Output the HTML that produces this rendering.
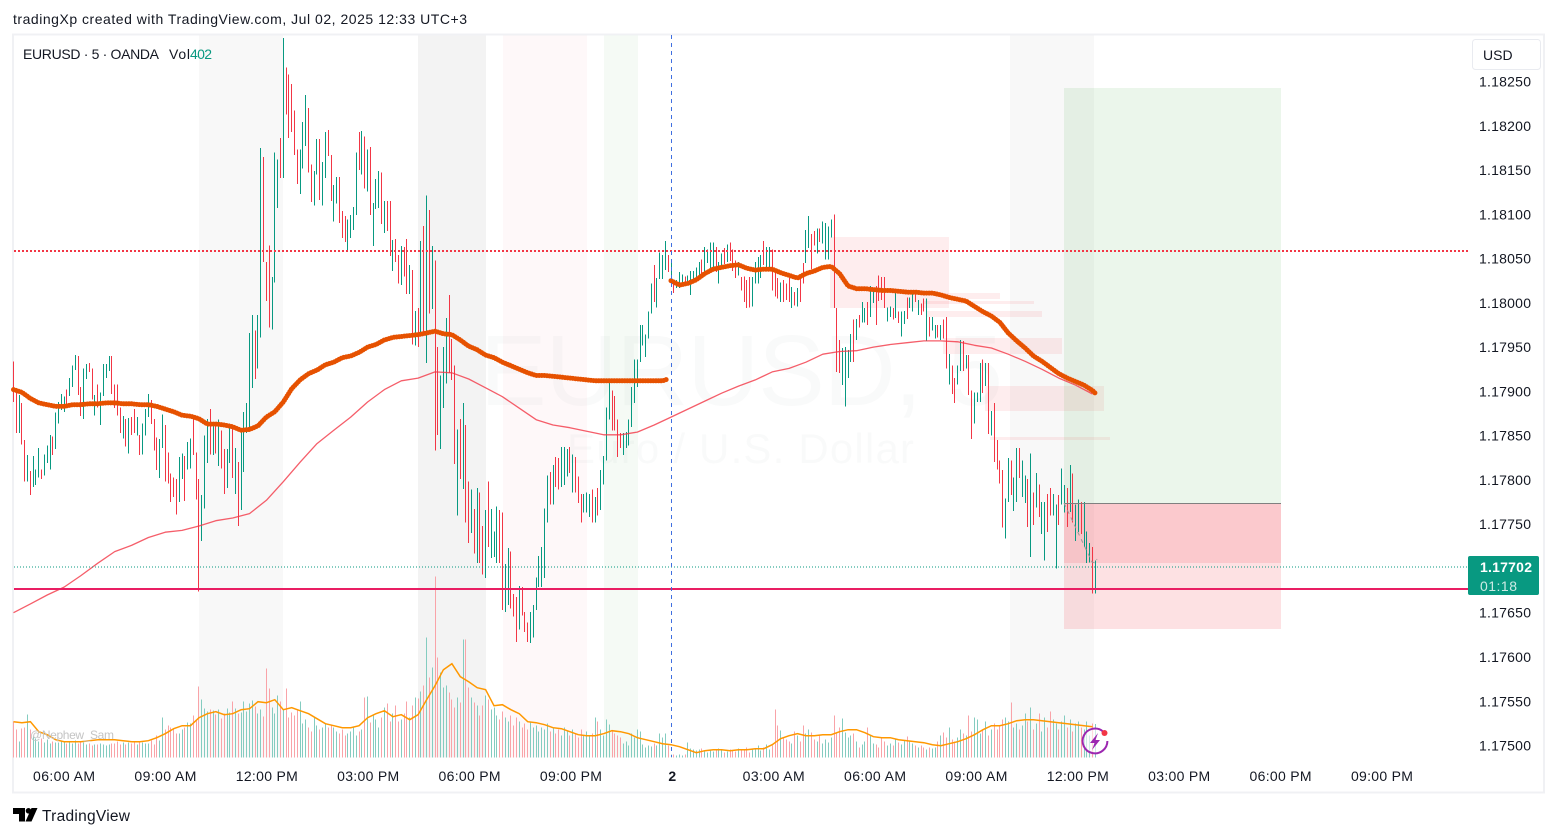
<!DOCTYPE html>
<html lang="en">
<head>
<meta charset="utf-8">
<title>EURUSD 5m chart</title>
<style>
html,body{margin:0;padding:0;background:#fff;width:1557px;height:837px;overflow:hidden}
svg{display:block;font-family:"Liberation Sans",sans-serif}
text{fill:#131722;font-size:14px}
</style>
</head>
<body>
<svg id="chart" xmlns="http://www.w3.org/2000/svg" width="1557" height="837" viewBox="0 0 1557 837">
  <text x="13" y="24" textLength="454" lengthAdjust="spacing">tradingXp created with TradingView.com, Jul 02, 2025 12:33 UTC+3</text>
  <rect x="13" y="34.5" width="1531" height="758" fill="#fff" stroke="#f0f1f4" stroke-width="2"/>
  <g>
    <rect x="199" y="35.5" width="84" height="722" fill="#f8f8f8"/>
    <rect x="418" y="35.5" width="68" height="722" fill="#f3f3f3"/>
    <rect x="503" y="35.5" width="84" height="722" fill="#fef8f9"/>
    <rect x="604" y="35.5" width="34" height="722" fill="#f5faf5"/>
    <rect x="1010" y="35.5" width="84" height="722" fill="#f8f8f8"/>
  </g>
  <g>
    <text x="480" y="405" textLength="523" style="font-size:100px;fill:rgba(19,23,34,.025)">EURUSD, 5</text>
    <text x="567" y="463" textLength="347" style="font-size:42px;fill:rgba(19,23,34,.025)">Euro / U.S. Dollar</text>
  </g>
  <g fill="rgba(242,54,69,.09)">
    <rect x="830" y="237" width="119" height="71"/>
    <rect x="943" y="293" width="57" height="6"/>
    <rect x="923" y="301" width="111" height="3"/>
    <rect x="927" y="311" width="115" height="6"/>
    <rect x="943" y="338" width="119" height="16"/>
    <rect x="985" y="386" width="119" height="25"/>
    <rect x="990" y="437" width="120" height="3"/>
  </g>
  <g>
    <rect x="1064" y="88" width="217" height="415" fill="rgba(76,175,80,.115)"/>
    <rect x="1064" y="503" width="217" height="60" fill="rgba(242,54,69,.27)"/>
    <rect x="1064" y="563" width="217" height="66" fill="rgba(242,54,69,.15)"/>
  </g>
  <g id="volumeBars"></g>
  <polyline id="volumeMa" fill="none" stroke="#ff9800" stroke-width="1.5"/>
  <g id="candles"></g>
  <line x1="1064" y1="503.5" x2="1281" y2="503.5" stroke="#808080" stroke-width="1"/>
  <polyline points="1064,503 1092,562 1095,563 1097,559" fill="none" stroke="#9a9a9a" stroke-width="1" stroke-dasharray="4 4"/>
  <polyline id="ma200" fill="none" stroke="#f23645" stroke-opacity=".8" stroke-width="1.3" stroke-linejoin="round"/>
  <polyline id="vwapDay1Line" fill="none" stroke="#e65100" stroke-width="5" stroke-linecap="round" stroke-dasharray="0 2.6"/>
  <polyline id="vwapDay2Line" fill="none" stroke="#e65100" stroke-width="5" stroke-linecap="round" stroke-dasharray="0 2.6"/>
  <line x1="14" y1="251" x2="1469" y2="251" stroke="#f23645" stroke-width="2" stroke-dasharray="2 2"/>
  <line x1="14" y1="567" x2="1469" y2="567" stroke="#089981" stroke-width="1" stroke-dasharray="1 2"/>
  <line x1="14" y1="589" x2="1469" y2="589" stroke="#e91e63" stroke-width="2"/>
  <line x1="671.5" y1="35" x2="671.5" y2="757" stroke="#3f6fe0" stroke-width="1" stroke-dasharray="4 4"/>
  <g id="priceAxis"></g>
  <g id="timeAxis"></g>
  <g>
    <text x="23" y="59" textLength="136">EURUSD · 5 · OANDA</text>
    <text x="169" y="59" textLength="21">Vol</text>
    <text x="190" y="59" textLength="22" style="fill:#089981">402</text>
  </g>
  <text x="30" y="739" textLength="84" style="font-size:12px;fill:#c4c4c4">@Nephew_Sam</text>
  <g>
    <rect x="1472.5" y="39.5" width="68" height="30" rx="3" fill="#fff" stroke="#e9ebf0"/>
    <text x="1483" y="60">USD</text>
  </g>
  <g>
    <rect x="1468" y="556" width="71" height="39" rx="2" fill="#089981"/>
    <text x="1480" y="572" textLength="52" style="fill:#fff;font-weight:bold">1.17702</text>
    <text x="1480" y="591" textLength="37" style="fill:#cdeae4">01:18</text>
  </g>
  <g>
    <path d="M1103 731.5A12.4 12.4 0 1 0 1107.4 741" fill="#fff" fill-opacity=".6" stroke="#9c27b0" stroke-width="2"/>
    <polygon points="1098,733 1090,743 1094.5,743 1092,750 1100,740 1095.5,740" fill="#9c27b0"/>
    <circle cx="1104.5" cy="733" r="3" fill="#f23645"/>
  </g>
  <g>
    <polygon points="13,808 25,808 25,821.5 19,821.5 19,814 13,814" fill="#000"/>
    <circle cx="28.5" cy="810.8" r="2.8" fill="#000"/>
    <polygon points="31.5,808 37.5,808 31.5,821.5 25.5,821.5" fill="#000"/>
    <text x="42" y="821" textLength="88" style="font-size:15.5px">TradingView</text>
  </g>
</svg>
<script>
const barHighs = [
117934,117902,117896,117887,117845,117828,117810,117827,117812,117836,
117812,117829,117839,117851,117849,117876,117888,117897,117894,117902,
117915,117929,117941,117940,117905,117926,117931,117932,117926,117896,
117908,117899,117931,117931,117940,117940,117908,117908,117882,117872,
117869,117870,117871,117880,117871,117851,117864,117880,117897,117890,
117869,117848,117846,117874,117862,117831,117807,117803,117801,117826,
117830,117827,117843,117847,117870,117831,117801,117783,117850,117869,
117880,117864,117863,117868,117856,117835,117835,117864,117859,117836,
117820,117856,117877,117887,117966,117986,117969,117986,118175,118165,
118046,118065,118029,118170,118162,118186,118299,118266,118258,118247,
118217,118173,118173,118204,118235,118220,118156,118149,118185,118185,
118159,118193,118195,118167,118133,118142,118142,118104,118098,118094,
118099,118108,118170,118193,118194,118188,118173,118176,118113,118140,
118149,118147,118115,118115,118115,118071,118072,118054,118064,118063,
118072,118043,118037,117991,117994,118070,118087,118121,118105,118064,
118048,117950,117918,117950,117983,118009,117959,117929,117857,117869,
117887,117862,117798,117789,117767,117791,117786,117748,117766,117798,
117767,117742,117770,117766,117763,117705,117723,117719,117671,117668,
117680,117679,117651,117639,117651,117659,117690,117714,117724,117768,
117805,117809,117817,117826,117825,117837,117837,117835,117837,117829,
117826,117804,117784,117784,117786,117784,117789,117781,117791,117811,
117827,117882,117913,117901,117895,117868,117853,117853,117854,117868,
117905,117936,117936,117975,117975,117964,117990,118022,118043,118028,
118057,118054,118070,118054,118046,118022,118026,118035,118032,118030,
118031,118036,118036,118040,118046,118049,118063,118060,118068,118068,
118063,118046,118056,118062,118066,118068,118060,118048,118046,118029,
118030,118026,118029,118029,118046,118052,118054,118070,118063,118063,
118060,118035,118028,118023,118026,118022,118028,118018,118012,118017,
118028,118045,118082,118098,118078,118081,118084,118084,118092,118090,
118086,118094,118100,117994,117958,117949,117950,117947,117965,117981,
117982,117986,118001,117994,118001,118019,118017,118019,118031,118029,
118029,117995,117996,117994,118012,117990,117990,117991,118006,118006,
118012,118012,118003,117999,118005,118005,117984,117984,117975,117975,
117975,117981,117984,117942,117929,117915,117929,117958,117957,117941,
117941,117901,117899,117899,117932,117936,117932,117932,117878,117887,
117845,117822,117811,117779,117825,117822,117803,117836,117836,117822,
117805,117801,117830,117786,117808,117795,117775,117775,117784,117791,
117784,117772,117783,117813,117794,117791,117817,117807,117772,117778,
117775,117775,117742,117729,117724,117709
];
const barLows = [
117888,117853,117853,117840,117798,117798,117783,117792,117794,117803,
117801,117805,117819,117812,117828,117835,117864,117879,117877,117882,
117895,117905,117924,117896,117872,117869,117914,117922,117891,117873,
117882,117862,117895,117915,117923,117897,117881,117873,117853,117847,
117838,117830,117851,117853,117850,117828,117829,117850,117871,117863,
117833,117811,117802,117836,117798,117796,117775,117781,117761,117775,
117801,117776,117812,117813,117828,117778,117674,117731,117768,117819,
117829,117828,117830,117816,117813,117784,117791,117819,117802,117784,
117748,117766,117809,117853,117857,117904,117914,117926,117961,118046,
118002,117972,117970,118023,118107,118141,118141,118213,118186,118193,
118167,118134,118123,118152,118177,118147,118114,118110,118145,118116,
118110,118141,118166,118115,118092,118112,118090,118073,118069,118058,
118073,118082,118099,118150,118145,118129,118126,118099,118064,118106,
118107,118089,118079,118081,118053,118036,118046,118022,118020,118030,
118010,118010,117953,117952,117950,117966,117966,117932,117988,117993,
117833,117851,117835,117881,117909,117921,117913,117818,117760,117801,
117790,117752,117729,117740,117717,117706,117706,117693,117689,117724,
117712,117713,117706,117706,117653,117651,117659,117655,117646,117617,
117631,117647,117628,117617,117616,117622,117653,117679,117679,117689,
117752,117772,117772,117792,117789,117792,117794,117804,117808,117786,
117786,117774,117752,117763,117763,117758,117752,117752,117760,117766,
117795,117822,117868,117856,117856,117826,117836,117828,117836,117839,
117860,117887,117905,117933,117952,117939,117960,117988,118001,117995,
118027,118027,118037,118035,118026,118011,118017,118017,118020,118020,
118020,118009,118023,118028,118029,118031,118035,118045,118034,118039,
118035,118022,118040,118044,118046,118047,118036,118028,118031,118014,
118001,117994,117995,117996,118022,118022,118028,118043,118039,118039,
118014,118007,118005,118001,118001,118003,118001,117994,117997,117996,
118001,118022,118045,118062,118038,118065,118056,118069,118067,118049,
118049,118074,117994,117922,117921,117907,117883,117915,117933,117933,
117958,117972,117978,117978,117975,117984,118000,117975,118002,118003,
117994,117979,117984,117981,117983,117977,117962,117976,117982,117994,
117990,118001,117986,117986,117990,117957,117962,117969,117960,117961,
117958,117960,117926,117908,117897,117887,117908,117923,117923,117926,
117896,117846,117864,117888,117888,117898,117906,117852,117850,117820,
117812,117796,117746,117734,117775,117783,117765,117775,117802,117781,
117774,117747,117713,117749,117769,117758,117739,117709,117741,117760,
117760,117700,117749,117772,117763,117747,117764,117752,117731,117741,
117739,117724,117706,117707,117672,117672
];
const barUp = [
0,0,1,0,0,1,0,1,1,1, 0,1,1,1,0,1,1,1,1,0, 1,1,1,0,0,1,1,0,0,1,
0,1,1,1,1,0,0,0,0,1, 0,1,0,0,1,0,1,1,1,0, 0,0,1,1,0,0,0,0,0,1,
1,0,1,1,0,0,0,1,1,1, 0,1,0,1,0,0,1,1,0,1, 0,1,1,1,1,1,0,1,1,0,
0,0,1,1,1,0,1,0,0,0, 0,0,1,1,1,0,0,1,1,0, 1,1,0,0,1,1,0,0,0,1,
1,1,1,0,1,0,1,0,1,1, 1,0,1,0,0,1,0,0,1,0, 0,1,0,1,0,1,0,1,0,1,
0,0,1,1,1,0,0,0,1,0, 1,0,0,1,0,1,0,0,1,0, 1,1,1,0,0,1,1,0,0,0,
1,0,0,0,1,1,1,1,1,1, 1,0,1,0,0,1,1,1,0,1, 0,0,0,1,1,1,0,1,0,1,
1,1,1,0,0,0,0,1,1,1, 1,1,1,1,1,1,1,1,0,1, 1,1,1,0,1,0,1,1,1,0,
1,1,1,1,1,0,1,1,1,1, 0,1,1,0,1,0,0,0,1,0, 0,0,0,1,1,1,1,0,1,1,
0,0,0,1,0,0,0,1,0,1, 0,0,1,1,0,0,1,0,1,1, 1,1,0,0,0,1,1,1,1,0,
1,0,1,1,0,1,1,0,0,0, 0,1,1,0,1,0,1,1,0,1, 1,0,1,0,0,1,0,1,1,0,
1,0,0,1,0,0,1,1,0,1, 0,0,1,1,1,0,1,0,1,0, 0,0,0,1,1,0,1,1,0,1,
1,0,1,0,1,0,1,1,0,0, 1,1,0,1,1,0,1,0,1,1, 0,1,1,1,0,1,1,0,1,0
];
const volumes = [
432,336,192,348,360,516,336,252,228,192,228,180,216,168,192,180,180,192,
180,168,192,168,204,168,180,180,156,168,144,156,156,168,156,144,156,168,
168,192,156,180,156,180,168,180,156,192,180,168,168,204,156,
264,204,480,336,384,360,336,288,288,336,360,420,408,504,456,852,
696,588,552,576,564,516,576,468,528,588,540,672,588,528,540,672,552,648,684,612,528,576,492,1068,
828,600,528,744,672,576,828,480,540,504,564,672,408,456,360,312,480,384,336,360,
408,360,384,360,312,288,336,264,288,312,360,264,312,336,
720,732,420,504,456,360,
480,600,648,432,528,624,432,456,528,672,480,
624,720,708,792,864,1440,960,1080,2172,1200,1020,840,864,780,696,600,720,660,1416,1416,840,720,660,624,
504,624,744,696,576,600,504,456,552,480,432,504,384,480,432,360,408,336,432,360,
384,312,360,336,408,312,360,288,336,264,360,312,264,336,288,240,336,264,312,264,288,480,432,336,264,
456,396,324,288,264,240,168,192,144,288,240,336,312,156,120,144,132,168,144,288,240,288,144,
36,36,24,36,24,36,180,108,96,84,96,108,72,60,84,72,96,
108,96,60,72,96,84,72,108,84,96,120,60,96,108,144,84,120,156,96,144,
576,384,324,240,
216,192,168,312,264,192,384,288,336,300,216,192,264,168,216,180,240,504,288,360,468,300,240,264,288,192,
120,156,192,360,264,168,156,120,240,192,144,168,144,216,180,156,204,252,192,168,144,120,144,120,96,120,108,120,192,264,
300,240,360,216,192,240,336,288,264,504,312,480,456,288,336,432,264,336,408,336,
384,456,480,432,660,360,408,336,384,528,432,600,336,408,528,312,480,360,552,456,408,336,432,504,360,456,312,408,432,360,336,432,264,408,402
];
const volumeMaValues = [
432,420,432,312,276,216,192,192,192,204,216,216,216,204,192,192,204,240,288,348,384,384,480,528,552,516,528,576,588,672,660,696,576,600,564,528,468,408,384,360,360,384,480,528,564,492,516,456,516,696,864,1056,1128,972,912,840,816,624,636,576,528,432,420,396,360,
348,312,276,264,264,288,324,312,288,240,216,192,168,156,132,96,60,84,96,96,84,96,96,108,108,156,228,264,288,264,264,276,276,312,336,336,300,252,240,240,216,204,192,180,156,144,168,192,228,276,336,384,384,408,444,456,456,444,432,420,408,396,384,372
];
const vwapDay1 = [
117902,117899,117892,117887,117885,117883,117883,117885,117885,117886,
117886,117887,117887,117886,117886,117885,117885,117883,117880,117877,
117873,117872,117869,117863,117863,117862,117860,117856,117857,117861,
117871,117877,117888,117903,117913,117920,117924,117930,117933,117938,
117940,117944,117950,117953,117958,117961,117962,117963,117964,117966,
117968,117965,117964,117958,117951,117947,117941,117938,117933,117929,
117925,117921,117918,117918,117917,117916,117915,117914,117913,117912,
117912,117912,117912,117912,117912,117912,117912,117912,117914
];
const vwapDay2 = [
118025,118020,118022,118026,118033,118038,118040,118042,118043,118039,
118037,118038,118038,118034,118031,118028,118033,118036,118040,118041,
118033,118019,118016,118016,118015,118014,118014,118013,118012,118012,
118011,118011,118009,118006,118004,118002,117996,117990,117985,117978,
117966,117957,117949,117940,117934,117927,117920,117915,117911,117907,
117901,117898
];
const ma200Values = [
117650,117660,117670,117679,117692,117706,117719,117726,117735,117741,
117743,117748,117754,117757,117762,117777,117798,117820,117841,117856,
117871,117888,117902,117912,117915,117922,117921,117914,117904,117894,
117881,117868,117862,117859,117855,117851,117851,117854,117862,117871,
117880,117889,117898,117906,117913,117922,117926,117933,117942,117945,
117946,117950,117953,117955,117957,117957,117956,117952,117949,117942,
117934,117925,117915,117907,117897
];
const priceTicks = ['1.18250','1.18200','1.18150','1.18100','1.18050','1.18000','1.17950','1.17900','1.17850','1.17800','1.17750','1.17650','1.17600','1.17550','1.17500'];
const timeLabels = ['06:00 AM','09:00 AM','12:00 PM','03:00 PM','06:00 PM','09:00 PM','2','03:00 AM','06:00 AM','09:00 AM','12:00 PM','03:00 PM','06:00 PM','09:00 PM'];

const SVGNS = 'http://www.w3.org/2000/svg';
function xOfBar(i){ return 13.5 + 2.81 * i; }
function xOfTimeTick(k){ return 64 + 101.38 * k; }
function yOfPrice(p){ return 81.5 + (1.1825 - p) / 0.0005 * 44.27; }
function yOfPoints(v){ return yOfPrice(v / 100000); }
function yOfVolume(v){ return 757.7 - v / 12; }
function make(tag, attrs, parent){
  const el = document.createElementNS(SVGNS, tag);
  for (const k in attrs) el.setAttribute(k, attrs[k]);
  parent.appendChild(el);
  return el;
}

const volumeGroup = document.getElementById('volumeBars');
volumes.forEach(function(v, i){
  const top = yOfVolume(v);
  const up = barUp[i] === 1;
  const el = make('rect', {x: Math.floor(xOfBar(i)), y: top, width: 1, height: 757.7 - top, fill: up ? '#84ccc0' : '#f9a3a8', 'shape-rendering': 'crispEdges'}, volumeGroup);
  
  
});

const candleGroup = document.getElementById('candles');
barHighs.forEach(function(h, i){
  const top = yOfPoints(h);
  const bottom = yOfPoints(barLows[i]);
  const el = make('rect', {x: Math.floor(xOfBar(i)), y: top, width: 1, height: bottom - top, fill: barUp[i] === 1 ? '#089981' : '#f23645', 'shape-rendering': 'crispEdges'}, candleGroup);
  
  
});

function linePoints(values, startBar, stride, lastBar, yFn){
  return values.map(function(v, k){
    const bar = Math.min(startBar + k * stride, lastBar);
    return xOfBar(bar).toFixed(1) + ',' + yFn(v).toFixed(1);
  }).join(' ');
}
document.getElementById('vwapDay1Line').setAttribute('points', linePoints(vwapDay1, 0, 3, 233, yOfPoints));
document.getElementById('vwapDay2Line').setAttribute('points', linePoints(vwapDay2, 234, 3, 385, yOfPoints));
document.getElementById('ma200').setAttribute('points', linePoints(ma200Values, 0, 6, 385, yOfPoints));
document.getElementById('volumeMa').setAttribute('points', linePoints(volumeMaValues, 0, 3, 385, yOfVolume));

const priceAxis = document.getElementById('priceAxis');
priceTicks.forEach(function(label){
  const el = make('text', {x: 1479, y: yOfPrice(parseFloat(label)) + 5, textLength: 52}, priceAxis);
  el.textContent = label;
  
  
});

const timeAxis = document.getElementById('timeAxis');
timeLabels.forEach(function(label, k){
  const el = make('text', {x: xOfTimeTick(k), y: 781, 'text-anchor': 'middle'}, timeAxis);
  el.textContent = label;
  if (label === '2') el.setAttribute('font-weight', 'bold');
  if (label !== '2') el.setAttribute('textLength', '62');
  
  
});
</script>
</body>
</html>
